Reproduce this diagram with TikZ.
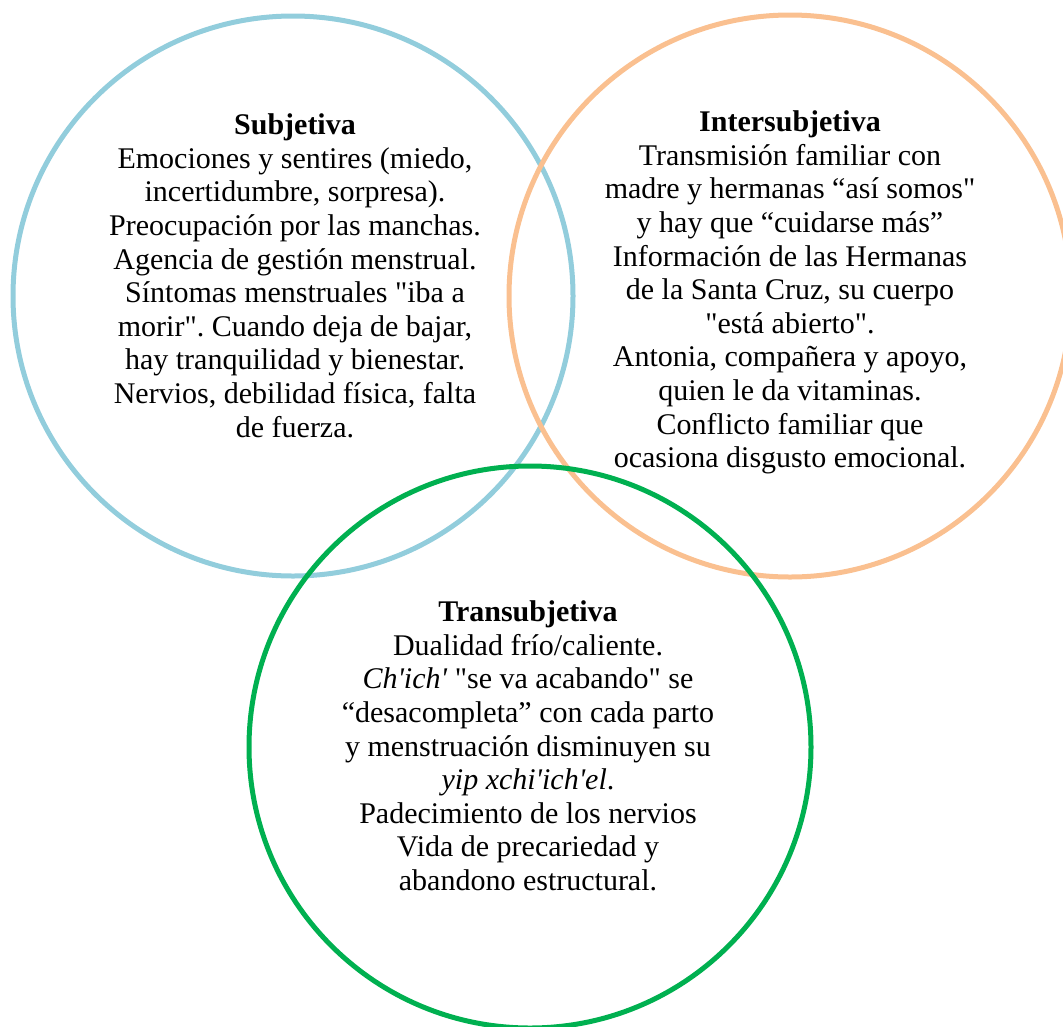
\documentclass[tikz,border=0pt]{standalone}
\usepackage{fontspec}
\setmainfont{Liberation Serif}[Ligatures=TeXOff,
	BoldFont={Liberation Serif Bold},
	ItalicFont={Liberation Serif Italic},
	BoldItalicFont={Liberation Serif Bold Italic}]
\usepackage{tikz}
\frenchspacing
\definecolor{RingBlue}{HTML}{92CDDC}
\definecolor{RingOrange}{HTML}{FAC090}
\definecolor{RingGreen}{HTML}{00B050}
\begin{document}
\begin{tikzpicture}[x=1pt,y=-1pt,font=\fontsize{30}{33.6}\selectfont]
	\useasboundingbox (0,0) rectangle (1063,1026);
	\tikzset{RingStyle/.style={circle, draw, line width=5pt, inner sep=0pt, outer sep=0pt}}
	\tikzset{TextStyle/.style={align=center, inner sep=0pt, anchor=base}}
	\node[RingStyle, draw=RingBlue, minimum size=560pt] (ringSub) at (293,296) {};
	\node[RingStyle, draw=RingOrange, minimum size=562pt] (ringInter) at (790,296) {};
	\node[RingStyle, draw=RingGreen, minimum size=562pt] (ringTrans) at (530,747) {};
	\node[TextStyle] (sub) at (295,437.1) {\textbf{Subjetiva}\\
		Emociones y sentires (miedo,\\
		incertidumbre, sorpresa).\\
		Preocupación por las manchas.\\
		Agencia de gestión menstrual.\\
		Síntomas menstruales "iba a\\
		morir". Cuando deja de bajar,\\
		hay tranquilidad y bienestar.\\
		Nervios, debilidad física, falta\\
		de fuerza.};
	\node[TextStyle] (inter) at (790,467.7) {\textbf{Intersubjetiva}\\
		Transmisión familiar con\\
		madre y hermanas “así somos"\\
		y hay que “cuidarse más”\\
		Información de las Hermanas\\
		de la Santa Cruz, su cuerpo\\
		"está abierto".\\
		Antonia, compañera y apoyo,\\
		quien le da vitaminas.\\
		Conflicto familiar que\\
		ocasiona disgusto emocional.};
	\node[TextStyle] (trans) at (528,890.5) {\textbf{Transubjetiva}\\
		Dualidad frío/caliente.\\
		\textit{Ch'ich'} "se va acabando" se\\
		“desacompleta” con cada parto\\
		y menstruación disminuyen su\\
		\textit{yip xchi'ich'el}.\\
		Padecimiento de los nervios\\
		Vida de precariedad y\\
		abandono estructural.};
\end{tikzpicture}
\end{document}
